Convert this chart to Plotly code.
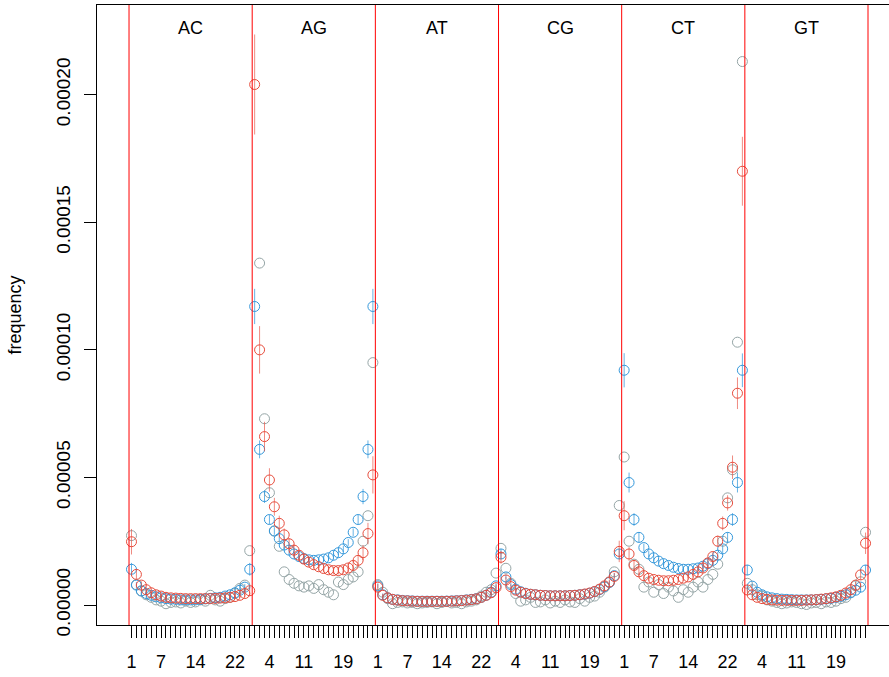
import plotly.graph_objects as go

# ---------------- data (frequency values in units of 1e-5) ----------------
SCALE = 1e-5
panels = ["AC", "AG", "AT", "CG", "CT", "GT"]
n_pos = 25

AC_grey = [2.72, 0.8, 0.55, 0.4, 0.3, 0.2, 0.15, 0.05, 0.1, 0.12, 0.08, 0.15, 0.1, 0.12, 0.2, 0.15, 0.38, 0.2, 0.15, 0.25, 0.3, 0.45, 0.65, 0.78, 2.13]
AC_blue = [1.4, 0.78, 0.55, 0.45, 0.38, 0.32, 0.28, 0.25, 0.23, 0.22, 0.2, 0.2, 0.2, 0.2, 0.22, 0.24, 0.26, 0.28, 0.3, 0.35, 0.4, 0.48, 0.58, 0.7, 1.4]
AC_red = [2.48, 1.2, 0.78, 0.6, 0.48, 0.4, 0.35, 0.3, 0.28, 0.27, 0.26, 0.25, 0.25, 0.25, 0.25, 0.25, 0.25, 0.26, 0.27, 0.28, 0.3, 0.33, 0.38, 0.45, 0.56]
AC_blue_err = [0.25, 0.12, 0.08, 0.06, 0.05, 0.05, 0.05, 0.05, 0.04, 0.04, 0.04, 0.04, 0.04, 0.04, 0.04, 0.04, 0.05, 0.05, 0.05, 0.05, 0.06, 0.07, 0.08, 0.12, 0.25]
AC_red_err = [0.5, 0.2, 0.15, 0.1, 0.08, 0.08, 0.07, 0.07, 0.06, 0.06, 0.06, 0.06, 0.06, 0.06, 0.06, 0.06, 0.06, 0.06, 0.06, 0.07, 0.07, 0.08, 0.09, 0.12, 0.15]

AG_grey = [25.0, 13.4, 7.3, 4.4, 2.9, 2.3, 1.3, 1.0, 0.85, 0.75, 0.7, 0.75, 0.65, 0.8, 0.6, 0.5, 0.4, 0.9, 0.8, 1.0, 1.1, 1.3, 2.5, 3.5, 9.5]
AG_blue = [11.7, 6.1, 4.25, 3.35, 2.9, 2.6, 2.35, 2.15, 2.0, 1.9, 1.82, 1.77, 1.75, 1.77, 1.8, 1.85, 1.95, 2.05, 2.2, 2.45, 2.85, 3.35, 4.25, 6.1, 11.7]
AG_red = [20.4, 10.0, 6.6, 4.9, 3.85, 3.2, 2.75, 2.4, 2.15, 1.95, 1.8, 1.68, 1.58, 1.5, 1.43, 1.38, 1.35, 1.35, 1.38, 1.45, 1.55, 1.75, 2.05, 2.8, 5.1]
AG_blue_err = [0.69, 0.35, 0.25, 0.18, 0.15, 0.13, 0.12, 0.1, 0.1, 0.1, 0.1, 0.1, 0.1, 0.1, 0.1, 0.1, 0.1, 0.1, 0.12, 0.13, 0.15, 0.18, 0.3, 0.35, 0.69]
AG_red_err = [1.96, 0.93, 0.58, 0.46, 0.35, 0.3, 0.25, 0.22, 0.2, 0.18, 0.17, 0.16, 0.15, 0.15, 0.15, 0.15, 0.15, 0.15, 0.15, 0.16, 0.18, 0.2, 0.3, 0.42, 0.73]

AT_grey = [0.8, 0.5, 0.25, 0.05, 0.1, 0.12, 0.08, 0.1, 0.05, 0.08, 0.1, 0.12, 0.05, 0.1, 0.15, 0.08, 0.1, 0.05, 0.12, 0.15, 0.2, 0.35, 0.5, 0.6, 1.25]
AT_blue = [0.75, 0.4, 0.28, 0.22, 0.2, 0.18, 0.17, 0.16, 0.15, 0.15, 0.15, 0.15, 0.15, 0.15, 0.15, 0.16, 0.17, 0.18, 0.2, 0.22, 0.25, 0.3, 0.38, 0.5, 0.75]
AT_red = [0.7, 0.38, 0.28, 0.22, 0.19, 0.17, 0.16, 0.15, 0.14, 0.14, 0.14, 0.14, 0.14, 0.14, 0.14, 0.15, 0.16, 0.17, 0.19, 0.21, 0.24, 0.3, 0.38, 0.48, 0.68]
AT_blue_err = [0.1, 0.05, 0.04, 0.03, 0.03, 0.03, 0.03, 0.03, 0.03, 0.03, 0.03, 0.03, 0.03, 0.03, 0.03, 0.03, 0.03, 0.03, 0.03, 0.03, 0.03, 0.04, 0.05, 0.06, 0.1]
AT_red_err = [0.12, 0.06, 0.05, 0.04, 0.04, 0.04, 0.04, 0.04, 0.04, 0.04, 0.04, 0.04, 0.04, 0.04, 0.04, 0.04, 0.04, 0.04, 0.04, 0.04, 0.04, 0.05, 0.06, 0.07, 0.12]

CG_grey = [2.22, 1.44, 0.85, 0.45, 0.15, 0.2, 0.3, 0.1, 0.12, 0.2, 0.08, 0.15, 0.1, 0.2, 0.12, 0.1, 0.25, 0.15, 0.3, 0.35, 0.5, 0.7, 0.9, 1.3, 3.9]
CG_blue = [2.0, 1.1, 0.8, 0.62, 0.52, 0.46, 0.42, 0.4, 0.38, 0.37, 0.36, 0.36, 0.36, 0.36, 0.37, 0.38, 0.4, 0.42, 0.46, 0.52, 0.6, 0.72, 0.88, 1.15, 2.0]
CG_red = [1.87, 0.98, 0.72, 0.58, 0.5, 0.45, 0.42, 0.4, 0.38, 0.37, 0.36, 0.36, 0.36, 0.36, 0.37, 0.38, 0.4, 0.43, 0.47, 0.53, 0.62, 0.75, 0.9, 1.12, 2.1]
CG_blue_err = [0.2, 0.1, 0.07, 0.05, 0.05, 0.04, 0.04, 0.04, 0.04, 0.04, 0.04, 0.04, 0.04, 0.04, 0.04, 0.04, 0.04, 0.04, 0.05, 0.05, 0.06, 0.07, 0.08, 0.1, 0.2]
CG_red_err = [0.25, 0.13, 0.09, 0.07, 0.06, 0.06, 0.05, 0.05, 0.05, 0.05, 0.05, 0.05, 0.05, 0.05, 0.05, 0.05, 0.05, 0.05, 0.06, 0.06, 0.07, 0.08, 0.1, 0.14, 0.42]

CT_grey = [5.8, 2.5, 1.6, 1.4, 0.7, 0.9, 0.5, 0.8, 0.45, 0.7, 0.55, 0.3, 0.6, 0.5, 0.7, 0.9, 0.7, 1.0, 1.2, 1.6, 2.5, 4.2, 5.3, 10.3, 21.3]
CT_blue = [9.2, 4.8, 3.35, 2.65, 2.25, 2.0, 1.85, 1.72, 1.62, 1.55, 1.48, 1.43, 1.4, 1.4, 1.42, 1.45, 1.52, 1.62, 1.75, 1.95, 2.2, 2.65, 3.35, 4.8, 9.2]
CT_red = [3.5, 2.0, 1.55, 1.3, 1.15, 1.05, 1.0, 0.97, 0.95, 0.95, 0.97, 1.0, 1.05, 1.1, 1.2, 1.3, 1.45, 1.65, 1.9, 2.5, 3.2, 4.0, 5.4, 8.3, 17.0]
CT_blue_err = [0.67, 0.39, 0.25, 0.2, 0.15, 0.13, 0.12, 0.1, 0.1, 0.1, 0.1, 0.1, 0.1, 0.1, 0.1, 0.1, 0.1, 0.1, 0.12, 0.13, 0.15, 0.2, 0.25, 0.39, 0.66]
CT_red_err = [0.57, 0.27, 0.2, 0.15, 0.12, 0.1, 0.1, 0.1, 0.1, 0.1, 0.1, 0.1, 0.1, 0.1, 0.1, 0.12, 0.13, 0.15, 0.17, 0.22, 0.27, 0.3, 0.46, 0.62, 1.35]

GT_grey = [0.85, 0.6, 0.4, 0.35, 0.2, 0.15, 0.1, 0.05, 0.08, 0.12, 0.1, 0.05, 0.02, 0.08, 0.1, 0.05, 0.12, 0.1, 0.15, 0.25, 0.3, 0.5, 0.75, 0.91, 2.85]
GT_blue = [1.37, 0.74, 0.5, 0.4, 0.32, 0.28, 0.25, 0.23, 0.22, 0.21, 0.2, 0.2, 0.2, 0.2, 0.21, 0.22, 0.24, 0.26, 0.3, 0.34, 0.4, 0.48, 0.58, 0.7, 1.37]
GT_red = [0.59, 0.4, 0.3, 0.25, 0.22, 0.2, 0.19, 0.18, 0.18, 0.18, 0.18, 0.18, 0.19, 0.2, 0.21, 0.23, 0.25, 0.28, 0.32, 0.38, 0.47, 0.6, 0.78, 1.18, 2.42]
GT_blue_err = [0.2, 0.1, 0.06, 0.05, 0.04, 0.04, 0.04, 0.04, 0.04, 0.04, 0.04, 0.04, 0.04, 0.04, 0.04, 0.04, 0.04, 0.04, 0.05, 0.05, 0.06, 0.07, 0.08, 0.1, 0.2]
GT_red_err = [0.12, 0.08, 0.06, 0.05, 0.05, 0.05, 0.05, 0.05, 0.05, 0.05, 0.05, 0.05, 0.05, 0.05, 0.05, 0.05, 0.05, 0.06, 0.06, 0.07, 0.08, 0.1, 0.12, 0.2, 0.42]

# visible tick labels: (panel index, position)
tick_label_panels = [0, 0, 0, 0, 1, 1, 1, 2, 2, 2, 2, 3, 3, 3, 4, 4, 4, 4, 5, 5, 5]
tick_label_positions = [1, 7, 14, 22, 4, 11, 19, 1, 7, 14, 22, 4, 11, 19, 1, 7, 14, 22, 4, 11, 19]

y_tick_values = [0, 5e-5, 1e-4, 1.5e-4, 2e-4]
y_tick_text = ["0.00000", "0.00005", "0.00010", "0.00015", "0.00020"]

# ---------------- assemble ----------------
grey_all, blue_all, red_all, blue_err_all, red_err_all = [], [], [], [], []
src = {
    "AC": (AC_grey, AC_blue, AC_red, AC_blue_err, AC_red_err),
    "AG": (AG_grey, AG_blue, AG_red, AG_blue_err, AG_red_err),
    "AT": (AT_grey, AT_blue, AT_red, AT_blue_err, AT_red_err),
    "CG": (CG_grey, CG_blue, CG_red, CG_blue_err, CG_red_err),
    "CT": (CT_grey, CT_blue, CT_red, CT_blue_err, CT_red_err),
    "GT": (GT_grey, GT_blue, GT_red, GT_blue_err, GT_red_err),
}
for p in panels:
    g, b, r, be, re_ = src[p]
    grey_all += [v * SCALE for v in g]
    blue_all += [v * SCALE for v in b]
    red_all += [v * SCALE for v in r]
    blue_err_all += [v * SCALE for v in be]
    red_err_all += [v * SCALE for v in re_]

n_total = n_pos * len(panels)
x_idx = list(range(1, n_total + 1))

GREY = "#95a5a6"
BLUE = "#3498db"
RED = "#e74c3c"

fig = go.Figure()
fig.add_trace(go.Scatter(
    x=x_idx, y=grey_all, mode="markers", name="grey",
    marker=dict(symbol="circle-open", size=10, color=GREY, line=dict(width=1, color=GREY)),
))
fig.add_trace(go.Scatter(
    x=x_idx, y=blue_all, mode="markers", name="blue",
    marker=dict(symbol="circle-open", size=10, color=BLUE, line=dict(width=1, color=BLUE)),
    error_y=dict(type="data", array=blue_err_all, visible=True, thickness=1, width=0,
                 color="rgba(52,152,219,0.75)"),
))
fig.add_trace(go.Scatter(
    x=x_idx, y=red_all, mode="markers", name="red",
    marker=dict(symbol="circle-open", size=10, color=RED, line=dict(width=1, color=RED)),
    error_y=dict(type="data", array=red_err_all, visible=True, thickness=1, width=0,
                 color="rgba(231,76,60,0.65)"),
))

# panel separators and titles
for k in range(len(panels) + 1):
    fig.add_shape(type="line", xref="x", yref="paper", x0=k * n_pos + 0.5, x1=k * n_pos + 0.5,
                  y0=0, y1=1, line=dict(color="red", width=1))
for k, p in enumerate(panels):
    fig.add_annotation(x=k * n_pos + (n_pos + 1) / 2, y=0.963, xref="x", yref="paper",
                       yanchor="middle", text=p, showarrow=False,
                       font=dict(size=18, color="black"))

tick_text = [""] * n_total
for pi, pos in zip(tick_label_panels, tick_label_positions):
    tick_text[pi * n_pos + pos - 1] = str(pos)

FONT = "Liberation Sans, Arial, sans-serif"
fig.update_layout(
    width=889, height=677,
    margin=dict(l=97, r=0, t=5, b=52, autoexpand=False),
    paper_bgcolor="white", plot_bgcolor="white",
    showlegend=False,
    font=dict(family=FONT, size=18, color="black"),
    xaxis=dict(
        range=[-6.0, 154.76], tickmode="array", tickvals=x_idx, ticktext=tick_text,
        ticks="outside", ticklen=12, tickwidth=1, tickcolor="black",
        showline=True, linecolor="black", linewidth=1, mirror=True,
        showgrid=False, zeroline=False, tickangle=0, automargin=False,
        ticklabelstandoff=8,
        tickfont=dict(size=18, family=FONT, color="black"),
    ),
    yaxis=dict(
        range=[-0.784e-5, 23.516e-5], tickmode="array", tickvals=y_tick_values, ticktext=y_tick_text,
        ticks="outside", ticklen=12, tickwidth=1, tickcolor="black",
        showline=True, linecolor="black", linewidth=1, mirror=False,
        showgrid=False, zeroline=False, tickangle=-90, automargin=False,
        ticklabelstandoff=6,
        tickfont=dict(size=19, family=FONT, color="black"),
        title=dict(text="frequency", font=dict(size=18, family=FONT, color="black"), standoff=27),
    ),
)

fig.write_html("out.html", config={"displayModeBar": False},
               post_script="document.body.style.margin='0';")
